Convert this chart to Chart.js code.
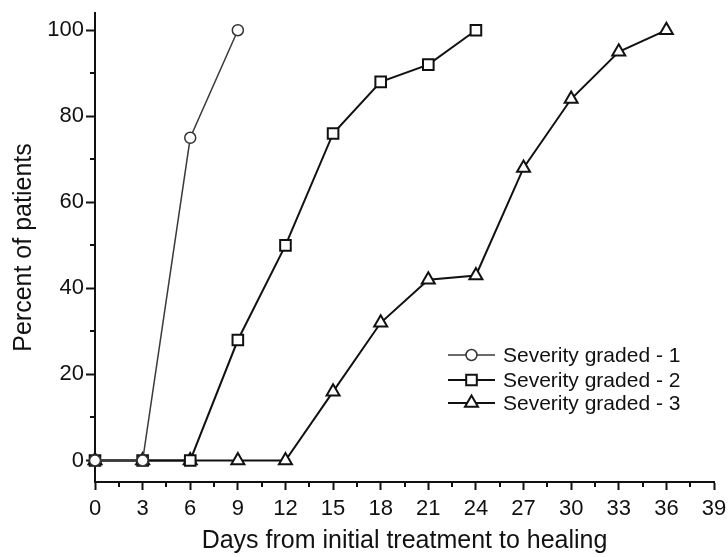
<!DOCTYPE html>
<html>
<head>
<meta charset="utf-8">
<script src="https://cdn.jsdelivr.net/npm/chart.js@4.4.1/dist/chart.umd.min.js"></script>
<style>
  html, body { margin: 0; padding: 0; background: #fff; }
  #wrap { width: 728px; height: 557px; }
</style>
</head>
<body>
<div id="wrap"><canvas id="myChart" width="728" height="557"></canvas></div>
<script>
// data
var days1 = [0, 3, 6, 9];
var grade1 = [0, 0, 75, 100];
var days2 = [0, 3, 6, 9, 12, 15, 18, 21, 24];
var grade2 = [0, 0, 0, 28, 50, 76, 88, 92, 100];
var days3 = [0, 3, 6, 9, 12, 15, 18, 21, 24, 27, 30, 33, 36];
var grade3 = [0, 0, 0, 0, 0, 16, 32, 42, 43, 68, 84, 95, 100];
var seriesNames = ['Severity graded - 1', 'Severity graded - 2', 'Severity graded - 3'];
var xTicks = [0, 3, 6, 9, 12, 15, 18, 21, 24, 27, 30, 33, 36, 39];
var yTicks = [0, 20, 40, 60, 80, 100];

function toPoints(xs, ys) {
  return xs.map(function (x, i) { return { x: x, y: ys[i] }; });
}

var FONT = 'Liberation Sans, Arial, sans-serif';

// minor ticks + legend drawn on top
var extras = {
  id: 'extras',
  afterDraw: function (chart) {
    var ctx = chart.ctx;
    var xs = chart.scales.x, ys = chart.scales.y;
    ctx.save();
    ctx.strokeStyle = '#111';
    ctx.lineWidth = 2;
    // minor ticks
    for (var i = 0; i < xTicks.length - 1; i++) {
      var px = Math.round(xs.getPixelForValue(xTicks[i] + 1.5));
      ctx.beginPath();
      ctx.moveTo(px, xs.top);
      ctx.lineTo(px, xs.top + 5);
      ctx.stroke();
    }
    for (var j = 0; j < yTicks.length - 1; j++) {
      var py = Math.round(ys.getPixelForValue(yTicks[j] + 10));
      ctx.beginPath();
      ctx.moveTo(ys.right, py);
      ctx.lineTo(ys.right - 5, py);
      ctx.stroke();
    }
    // legend
    var lx = 448, rowY = [355, 380, 403];
    chart.data.datasets.forEach(function (ds, k) {
      var y = rowY[k];
      ctx.strokeStyle = ds.borderColor;
      ctx.lineWidth = ds.borderWidth;
      ctx.beginPath();
      ctx.moveTo(lx, y);
      ctx.lineTo(lx + 47, y);
      ctx.stroke();
      ctx.fillStyle = '#fff';
      ctx.strokeStyle = ds.pointBorderColor;
      ctx.lineWidth = ds.pointBorderWidth;
      Chart.helpers.drawPoint(ctx, {
        pointStyle: ds.pointStyle,
        radius: ds.pointRadius,
        borderWidth: ds.pointBorderWidth,
        rotation: 0
      }, lx + 23.5, y);
      ctx.fillStyle = '#111';
      ctx.font = '21px ' + FONT;
      ctx.textBaseline = 'middle';
      ctx.textAlign = 'left';
      ctx.fillText(seriesNames[k], lx + 55, y + 1);
    });
    ctx.restore();
  }
};

var ctx = document.getElementById('myChart');
var myChart = new Chart(ctx, {
  type: 'line',
  data: {
    datasets: [
      {
        label: seriesNames[0],
        data: toPoints(days1, grade1),
        borderColor: '#3a3a3a',
        borderWidth: 1.5,
        pointStyle: 'circle',
        pointRadius: 5.5,
        pointBorderWidth: 1.5,
        pointBorderColor: '#333',
        pointBackgroundColor: '#fff',
        lineTension: 0
      },
      {
        label: seriesNames[1],
        data: toPoints(days2, grade2),
        borderColor: '#111',
        borderWidth: 2,
        pointStyle: 'rect',
        pointRadius: 7.5,
        pointBorderWidth: 2,
        pointBorderColor: '#111',
        pointBackgroundColor: '#fff',
        lineTension: 0
      },
      {
        label: seriesNames[2],
        data: toPoints(days3, grade3),
        borderColor: '#111',
        borderWidth: 2,
        pointStyle: 'triangle',
        pointRadius: 7.5,
        pointBorderWidth: 2,
        pointBorderColor: '#111',
        pointBackgroundColor: '#fff',
        lineTension: 0
      }
    ]
  },
  options: {
    responsive: false,
    animation: false,
    clip: false,
    layout: { padding: { left: 0, right: 14, top: 13, bottom: 0 } },
    plugins: {
      legend: { display: false },
      tooltip: { enabled: false }
    },
    scales: {
      x: {
        type: 'linear',
        min: 0,
        max: 39,
        afterBuildTicks: function (scale) {
          scale.ticks = xTicks.map(function (v) { return { value: v }; });
        },
        afterFit: function (scale) {
          scale.height = 75;
          scale.paddingLeft = 0;
          scale.paddingRight = 0;
        },
        grid: { drawOnChartArea: false, tickLength: 8, tickWidth: 2, tickColor: '#111' },
        border: { display: true, color: '#111', width: 2 },
        ticks: { color: '#111', font: { family: FONT, size: 22 }, padding: 6, maxRotation: 0 },
        title: {
          display: true,
          text: 'Days from initial treatment to healing',
          color: '#111',
          font: { family: FONT, size: 25 },
          padding: { top: 4, bottom: 1 }
        }
      },
      y: {
        type: 'linear',
        min: -5,
        max: 104,
        afterBuildTicks: function (scale) {
          scale.ticks = yTicks.map(function (v) { return { value: v }; });
        },
        afterFit: function (scale) {
          scale.width = 95;
          scale.paddingTop = 0;
          scale.paddingBottom = 0;
        },
        grid: { drawOnChartArea: false, tickLength: 9, tickWidth: 2, tickColor: '#111' },
        border: { display: true, color: '#111', width: 2 },
        ticks: { color: '#111', font: { family: FONT, size: 22 }, padding: 2 },
        title: {
          display: true,
          text: 'Percent of patients',
          color: '#111',
          font: { family: FONT, size: 25 },
          padding: { top: 9, bottom: 0 }
        }
      }
    }
  },
  plugins: [extras]
});
</script>
</body>
</html>
